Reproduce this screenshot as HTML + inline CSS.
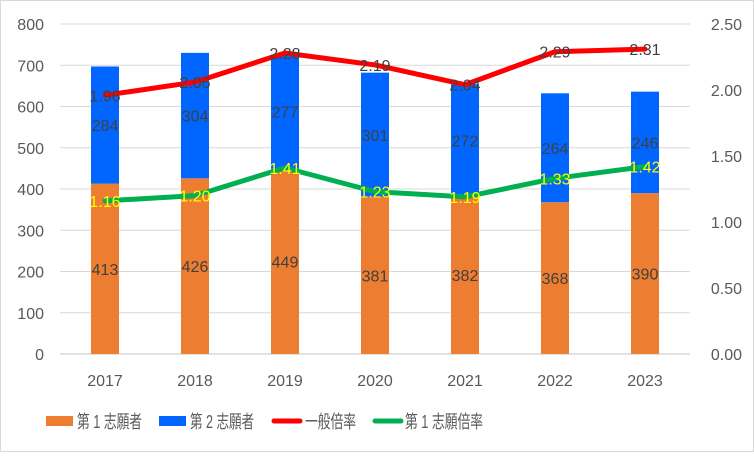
<!DOCTYPE html>
<html><head><meta charset="utf-8"><style>
body{margin:0;background:#fff}
svg text{font-family:"Liberation Sans","Noto Sans CJK JP",sans-serif}
</style></head><body>
<svg id="c" width="754" height="452" xmlns="http://www.w3.org/2000/svg">
<rect x="0.5" y="0.5" width="753" height="451" fill="#fff" stroke="#d9d9d9"/>
<g id="grid"></g><g id="bars"></g><g id="lines"></g><g id="labels"></g><g id="axes"></g>
<g font-size="18" fill="#595959">
<rect x="46" y="416" width="27" height="10" fill="#ED7D31"/>
<text x="77" y="428" textLength="65" lengthAdjust="spacingAndGlyphs">第 1 志願者</text>
<rect x="159" y="416" width="27" height="10" fill="#0066FF"/>
<text x="190" y="428" textLength="64" lengthAdjust="spacingAndGlyphs">第 2 志願者</text>
<line x1="274" y1="421" x2="300" y2="421" stroke="#FF0000" stroke-width="5" stroke-linecap="round"/>
<text x="305" y="428" textLength="51" lengthAdjust="spacingAndGlyphs">一般倍率</text>
<line x1="375" y1="421" x2="401" y2="421" stroke="#00B050" stroke-width="5" stroke-linecap="round"/>
<text x="405" y="428" textLength="78" lengthAdjust="spacingAndGlyphs">第 1 志願倍率</text>
</g>
</svg>
<script>
const categories=["2017","2018","2019","2020","2021","2022","2023"];
const first=[413,426,449,381,382,368,390];
const second=[284,304,277,301,272,264,246];
const generalRatio=[1.96,2.06,2.28,2.19,2.04,2.29,2.31];
const firstRatio=[1.16,1.20,1.41,1.23,1.19,1.33,1.42];
const leftTicks=[0,100,200,300,400,500,600,700,800];
const rightTicks=["0.00","0.50","1.00","1.50","2.00","2.50"];
const NS="http://www.w3.org/2000/svg";
const X0=60,X1=690,Y0=354,Y1=24;
const xc=i=>X0+(X1-X0)/categories.length*(i+0.5);
const yL=v=>Y0-(Y0-Y1)*v/800;
const yR=v=>Y0-(Y0-Y1)*v/2.5;
function mk(p,t,a){const e=document.createElementNS(NS,t);for(const k in a)e.setAttribute(k,a[k]);p.appendChild(e);return e;}
const G=id=>document.getElementById(id);
leftTicks.forEach(v=>{
 const l=mk(G('grid'),'line',{x1:X0,x2:X1,y1:yL(v),y2:yL(v),stroke:'#d9d9d9','stroke-width':v==0?1.5:1});
 
 
 const t=mk(G('axes'),'text',{x:44,y:yL(v)+6,'text-anchor':'end','font-size':16,fill:'#595959'});t.textContent=v;
 
 
});
rightTicks.forEach(s=>{
 const t=mk(G('axes'),'text',{x:742,y:yR(+s)+6,'text-anchor':'end','font-size':16,fill:'#595959'});t.textContent=s;
 
 
});
const bw=28;
categories.forEach((c,i)=>{
 const x=xc(i);
 const t=mk(G('axes'),'text',{x:x,y:386,'text-anchor':'middle','font-size':16,fill:'#595959'});t.textContent=c;
 
 
 const b1=mk(G('bars'),'rect',{x:x-bw/2,y:yL(first[i]),width:bw,height:Y0-yL(first[i]),fill:'#ED7D31'});
 
 
 const top=first[i]+second[i];
 const b2=mk(G('bars'),'rect',{x:x-bw/2,y:yL(top),width:bw,height:yL(first[i])-yL(top),fill:'#0066FF'});
 
 
 const l1=mk(G('labels'),'text',{x:x,y:yL(first[i]/2)+6,'text-anchor':'middle','font-size':16,fill:'#404040'});l1.textContent=first[i];
 
 
 const l2=mk(G('labels'),'text',{x:x,y:yL(first[i]+second[i]/2)+6,'text-anchor':'middle','font-size':16,fill:'#404040'});l2.textContent=second[i];
 
 
});
function line(data,color,name,lblColor){
 const p=mk(G('lines'),'polyline',{points:data.map((v,i)=>xc(i)+','+yR(v)).join(' '),fill:'none',stroke:color,'stroke-width':5,'stroke-linejoin':'round','stroke-linecap':'round'});
 
 
 data.forEach((v,i)=>{
  const t=mk(G('labels'),'text',{x:xc(i),y:yR(v)+6,'text-anchor':'middle','font-size':16,fill:lblColor});t.textContent=v.toFixed(2);
  
  
 });
}
line(generalRatio,'#FF0000','line-general-ratio','#404040');
line(firstRatio,'#00B050','line-first-ratio','#FFFF00');
</script>
</body></html>
